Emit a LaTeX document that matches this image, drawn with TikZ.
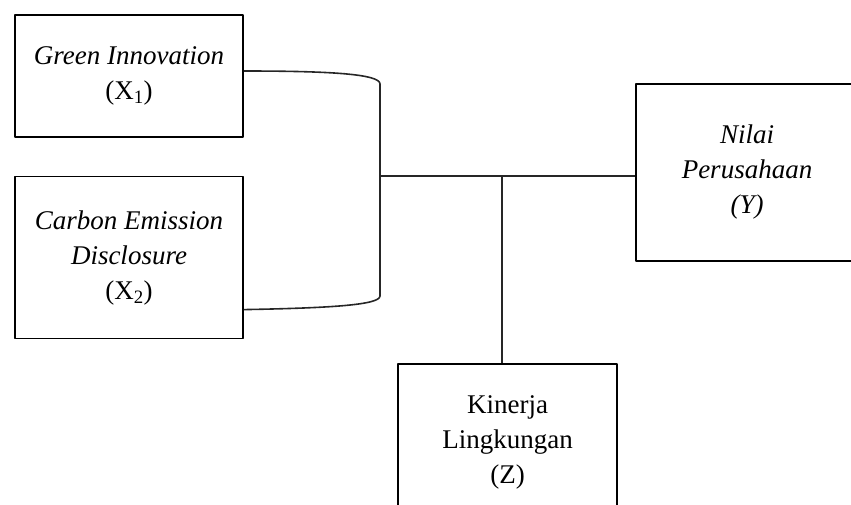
\documentclass[tikz,border=0pt]{standalone}
\usepackage{fontspec}
\setmainfont{Liberation Serif}
\usetikzlibrary{positioning,calc}
\tikzset{
  my var/.style={
    draw,
    rectangle,
    align=center,
    inner sep=0pt,
    minimum width=228pt,
    font=\fontsize{27}{35}\selectfont
  },
  my link/.style={
    line width=1.6pt,
    draw=black!85
  }
}

\begin{document}
\begin{tikzpicture}[x=1pt,y=-1pt,line join=round]
\useasboundingbox (0,0) rectangle (851,504);
\clip (0,0) rectangle (851,504);
% Independent variables
\node[my var,minimum height=122pt,line width=1.6pt] (x1) at (129,76)
  {\textit{Green Innovation}\\(X\textsubscript{1})};
\node[my var,minimum height=162pt,line width=1.6pt] (x2) [below=38pt of x1]
  {\textit{Carbon Emission}\\\textit{Disclosure}\\(X\textsubscript{2})};
% Dependent variable
\node[my var,minimum width=222pt,minimum height=177pt,line width=1.6pt] (y) at (747,172.5)
  {\textit{Nilai}\\\textit{Perusahaan}\\\textit{(Y)}};
% Moderating variable
\node[my var,minimum width=219pt,minimum height=156pt,line width=1.6pt] (z) at (507.5,442)
  {Kinerja\\Lingkungan\\(Z)};
% Bracket joining X1 and X2
\coordinate (jn) at (380,176);
\coordinate (tee) at (502,176);
\draw[my link] ([yshift=5pt]x1.east) .. controls (330,71) and (380,74) .. (380,84)
  -- (380,296) .. controls (380,305) and (330,308) .. ([yshift=-52pt]x2.east);
% Links to Y and Z
\draw[my link] (jn) -- (jn -| y.west);
\draw[my link] (tee) -- (tee |- z.north);
\end{tikzpicture}
\end{document}
